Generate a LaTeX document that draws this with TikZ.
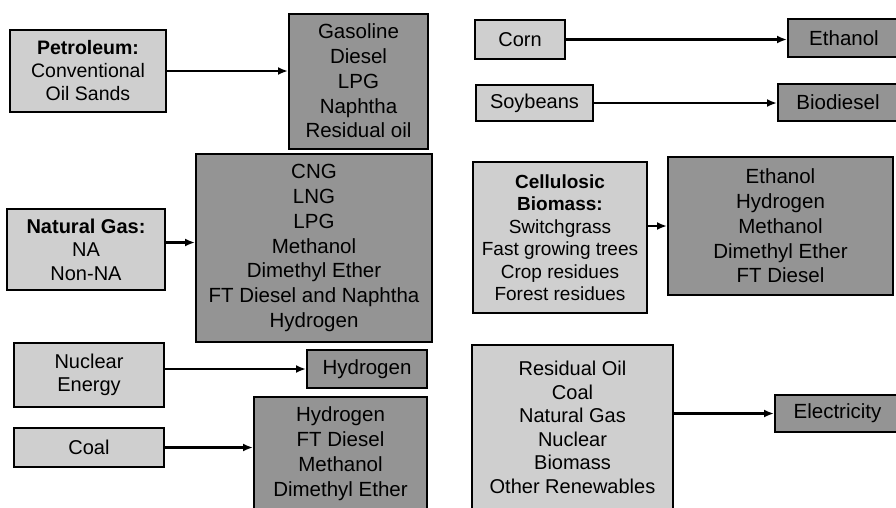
\documentclass[tikz,border=0pt]{standalone}
\usepackage{fontspec}
\setmainfont{Liberation Sans}
\usetikzlibrary{arrows.meta, positioning}

\begin{document}
\begin{tikzpicture}[
    x=1pt, y=-1pt,
    src/.style={draw, line width=2pt, fill=black!19, align=center,
                inner sep=0pt, font=\fontsize{20}{23.5}\selectfont},
    prod/.style={src, fill=black!42, font=\fontsize{20.5}{24.8}\selectfont},
    flow/.style={-{Latex[length=10pt, width=8pt]}, line width=2.4pt}
]
\useasboundingbox (0,0) rectangle (896,507);

% sources, left column
\node[src, minimum width=156pt, minimum height=82pt,
      font=\fontsize{19.5}{23}\selectfont] (pet) at (88,71)
      {\textbf{Petroleum:}\\Conventional\\Oil Sands};
\node[src, minimum width=158pt, minimum height=81pt] (ng) at (86,249.5)
      {\textbf{Natural Gas:}\\NA\\Non-NA};
\node[src, minimum width=150pt, minimum height=64pt] (nuc) at (89,375)
      {Nuclear\\Energy};
\node[src, minimum width=150pt, minimum height=39pt] (coal) at (89,447.5) {Coal};

% products, left column
\node[prod, minimum width=139pt, minimum height=135pt] (gas) at (358.5,81)
      {Gasoline\\Diesel\\LPG\\Naphtha\\Residual oil};
\node[prod, minimum width=236pt, minimum height=188pt] (cng) at (314,248)
      {CNG\\LNG\\LPG\\Methanol\\Dimethyl Ether\\FT Diesel and Naphtha\\Hydrogen};
\node[prod, minimum width=120pt, minimum height=38pt] (hyd) at (367,369) {Hydrogen};
\node[prod, minimum width=173pt, minimum height=113pt] (coalout) at (340.5,453.5)
      {Hydrogen\\FT Diesel\\Methanol\\Dimethyl Ether};

% sources, right column
\node[src, minimum width=90pt, minimum height=39pt] (corn) at (520,39.5) {Corn};
\node[src, minimum width=117pt, minimum height=36pt] (soy) at (534.5,103) {Soybeans};
\node[src, minimum width=174pt, minimum height=151pt,
      font=\fontsize{19}{22.5}\selectfont] (cell) at (560,237.5)
      {\textbf{Cellulosic}\\\textbf{Biomass:}\\Switchgrass\\Fast growing trees\\Crop residues\\Forest residues};
\node[src, minimum width=201pt, minimum height=165pt] (res) at (572.5,427.5)
      {Residual Oil\\Coal\\Natural Gas\\Nuclear\\Biomass\\Other Renewables};

% products, right column
\node[prod, minimum width=112pt, minimum height=38pt] (eth) at (844,38) {Ethanol};
\node[prod, minimum width=120pt, minimum height=37pt] (bio) at (838,102.5) {Biodiesel};
\node[prod, minimum width=225pt, minimum height=138pt] (cellout) at (780.5,226)
      {Ethanol\\Hydrogen\\Methanol\\Dimethyl Ether\\FT Diesel};
\node[prod, minimum width=125pt, minimum height=37pt] (elec) at (837.5,413.5) {Electricity};

% arrows
\draw[flow] (pet.east) -- (pet.east -| gas.west);
\draw[flow] ([yshift=7pt]ng.east) -- ([yshift=7pt]ng.east -| cng.west);
\draw[flow] (nuc.east |- hyd.west) -- (hyd.west);
\draw[flow] (coal.east) -- (coal.east -| coalout.west);
\draw[flow] (corn.east) -- (corn.east -| eth.west);
\draw[flow] (soy.east) -- (soy.east -| bio.west);
\draw[flow] (cell.east |- cellout.west) -- (cellout.west);
\draw[flow] (res.east |- elec.west) -- (elec.west);
\end{tikzpicture}
\end{document}
